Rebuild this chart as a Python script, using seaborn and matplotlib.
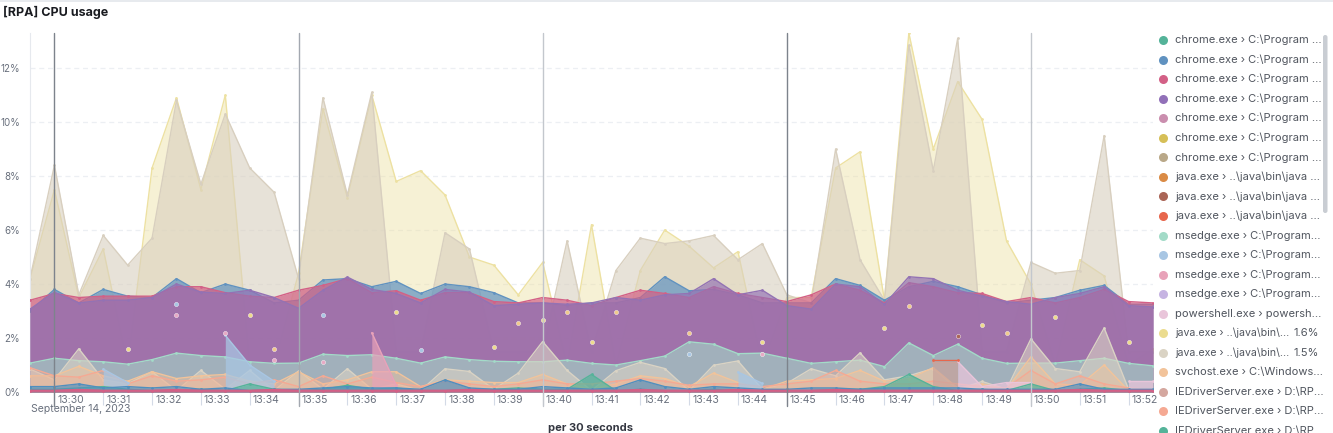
import numpy as np
import pandas as pd
import matplotlib
matplotlib.use("Agg")
import matplotlib.pyplot as plt
import matplotlib.dates as mdates
from matplotlib.transforms import ScaledTranslation
from matplotlib.patches import FancyBboxPatch
import seaborn as sns

nan = np.nan
N = 47
times = pd.date_range("2023-09-14 13:29:30", periods=N, freq="30s")

# ---------------- data (CPU %, one value per 30 s bucket) ----------------
java_16 = [4.2, 7.5, 3.5, 5.3, 1.0, 8.3, 10.9, 7.5, 11.0, 1.0, 1.0, 4.4, 10.5, 7.2, 11.0, 7.8,
           8.2, 7.3, 5.0, 4.7, 3.6, 4.8, 1.0, 6.2, 1.0, 4.5, 6.0, 5.4, 4.6, 5.2, 1.0, 3.5,
           3.5, 8.3, 8.9, 3.4, 13.3, 9.0, 11.5, 10.1, 5.6, 4.0, 1.0, 4.9, 4.3, 1.0, 1.6]
java_15 = [4.2, 8.4, 3.6, 5.8, 4.7, 5.7, 10.8, 7.7, 10.3, 8.3, 7.4, 4.2, 10.9, 7.3, 11.1, 1.5,
           1.5, 5.9, 5.3, 1.5, 1.5, 1.5, 5.6, 1.5, 4.5, 5.7, 5.5, 5.6, 5.8, 4.9, 5.5, 3.6,
           3.3, 9.0, 4.9, 3.4, 12.85, 8.2, 13.1, 1.5, 1.5, 4.8, 4.4, 4.5, 9.5, 1.5, 1.5]
chrome_blue = [3.0, 3.8, 3.3, 3.8, 3.55, 3.5, 4.2, 3.68, 4.0, 3.77, 3.3, 3.4, 4.15, 4.2, 3.9, 4.1,
               3.65, 4.0, 3.9, 3.68, 3.3, 3.3, 3.2, 3.3, 3.3, 3.5, 4.27, 3.75, 3.8, 3.6, 3.3, 3.3,
               3.3, 4.2, 3.95, 3.4, 3.9, 4.1, 3.9, 3.6, 3.3, 3.4, 3.5, 3.77, 3.95, 3.25, 3.25]
chrome_red = [3.4, 3.65, 3.5, 3.55, 3.55, 3.55, 3.9, 3.9, 3.68, 3.55, 3.5, 3.77, 3.95, 4.2, 3.68, 3.75,
              3.4, 3.68, 3.68, 3.35, 3.3, 3.5, 3.4, 3.2, 3.5, 3.77, 3.65, 3.5, 3.9, 3.65, 3.5, 3.35,
              3.6, 4.0, 3.77, 3.3, 4.05, 3.9, 3.68, 3.65, 3.35, 3.5, 3.3, 3.5, 3.8, 3.35, 3.3]
chrome_purple = [3.07, 3.7, 3.3, 3.4, 3.4, 3.5, 4.0, 3.7, 3.65, 3.77, 3.5, 3.1, 3.77, 4.26, 3.8, 3.65,
                 3.3, 3.8, 3.7, 3.2, 3.25, 3.3, 3.25, 3.3, 3.5, 3.4, 3.6, 3.65, 4.2, 3.6, 3.77, 3.2,
                 3.07, 4.0, 3.9, 3.25, 4.27, 4.2, 3.77, 3.55, 3.35, 3.25, 3.5, 3.65, 3.9, 3.2, 3.15]
msedge_mint = [1.07, 1.25, 1.16, 1.12, 1.03, 1.2, 1.44, 1.35, 1.3, 1.12, 1.06, 1.07, 1.4, 1.35, 1.38, 1.25,
               1.07, 1.3, 1.2, 1.14, 1.12, 1.12, 1.18, 1.06, 1.0, 1.16, 1.33, 1.86, 1.77, 1.42, 1.44, 1.25,
               1.06, 1.12, 1.18, 0.94, 1.82, 1.35, 1.77, 1.25, 1.06, 1.07, 1.07, 1.16, 1.25, 1.06, 0.97]
chrome_tan = [0.85, 0.45, 1.6, 0.45, 0.3, 0.75, 0.05, 0.8, 0.1, 0.8, 0.05, 0.78, 0.1, 0.86, 0.1, 0.3,
              0.05, 0.86, 0.76, 0.1, 0.7, 1.87, 0.8, 0.05, 0.79, 1.1, 0.87, 0.05, 0.99, 1.15, 0.1, 0.32,
              0.86, 0.6, 1.45, 0.45, 0.6, 0.87, 0.1, 0.39, 0.1, 1.97, 0.87, 0.75, 2.37, 0.1, 0.1]
svchost = [0.6, 0.6, 0.95, 0.6, 0.4, 0.75, 0.5, 0.6, 0.65, 0.4, 0.3, 0.75, 0.3, 0.45, 0.75, 0.75,
           0.2, 0.45, 0.4, 0.35, 0.35, 0.65, 0.3, 0.1, 0.3, 0.6, 0.5, 0.2, 0.7, 0.35, 0.1, 0.4,
           0.45, 0.5, 0.8, 0.4, 0.5, 0.9, 0.15, 0.3, 0.1, 1.3, 0.3, 0.25, 1.0, 0.05, 0.1]
iedriver_salmon = [0.9, 0.6, 0.55, 0.8, 0.3, 0.6, 0.4, 0.45, 0.55, 0.3, 0.45, 0.2, 0.6, 0.3, 0.55, 0.35,
                   0.2, 0.4, 0.3, 0.2, 0.3, 0.45, 0.3, 0.3, 0.4, 0.5, 0.4, 0.25, 0.3, 0.3, 0.2, 0.3,
                   0.4, 0.8, 0.4, 0.3, 0.3, 0.4, 0.3, 0.2, 0.15, 0.8, 0.3, 0.6, 0.3, 0.15, 0.1]
chrome_green = [0.1, 0.1, 0.15, 0.2, 0.1, 0.05, 0.05, 0.1, 0.05, 0.3, 0.1, 0.05, 0.1, 0.25, 0.1, 0.15,
                0.05, 0.05, 0.1, 0.1, 0.15, 0.1, 0.1, 0.65, 0.05, 0.1, 0.05, 0.05, 0.1, 0.05, 0.05, 0.05,
                0.05, 0.1, 0.1, 0.2, 0.65, 0.2, 0.05, 0.1, 0.05, 0.3, 0.05, 0.1, 0.15, 0.05, 0.05]
other_blue = [0.2, 0.2, 0.3, 0.15, 0.2, 0.15, 0.2, 0.1, 0.15, 0.05, 0.1, 0.1, 0.15, 0.2, 0.15, 0.15,
              0.1, 0.45, 0.15, 0.1, 0.1, 0.2, 0.15, 0.1, 0.15, 0.45, 0.2, 0.1, 0.2, 0.15, 0.1, 0.1,
              0.15, 0.15, 0.1, 0.15, 0.15, 0.15, 0.15, 0.1, 0.1, 0.1, 0.1, 0.3, 0.1, 0.1, 0.1]
other_red = [0.05, 0.05, 0.08, 0.05, 0.05, 0.05, 0.08, 0.05, 0.05, 0.05, 0.08, 0.05, 0.05, 0.05, 0.05, 0.05,
             0.05, 0.05, 0.08, 0.05, 0.05, 0.05, 0.05, 0.05, 0.05, 0.08, 0.05, 0.05, 0.05, 0.08, 0.05, 0.05,
             0.05, 0.08, 0.05, 0.05, 0.05, 0.05, 0.05, 0.05, 0.05, 0.05, 0.05, 0.08, 0.05, 0.05, 0.05]
msedge_blue = [nan, nan, nan, 0.85, 0.35, nan, 3.26, nan, 2.1, 1.0, 0.4, nan, 2.85, nan, nan, nan,
               1.55, nan, nan, nan, nan, nan, nan, nan, nan, nan, nan, 1.4, nan, 0.74, 0.32, nan,
               nan, nan, nan, nan, nan, nan, nan, nan, nan, nan, nan, nan, nan, nan, nan]
msedge_pink = [nan, nan, nan, nan, nan, nan, nan, nan, nan, nan, nan, nan, nan, nan, 2.2, 0.25,
               nan, nan, nan, nan, nan, nan, nan, nan, nan, nan, nan, nan, nan, nan, nan, nan,
               nan, nan, nan, nan, nan, nan, nan, nan, nan, nan, nan, nan, nan, nan, nan]
powershell = [nan, nan, nan, nan, nan, nan, nan, nan, nan, nan, nan, nan, nan, nan, nan, nan,
              nan, nan, nan, nan, nan, nan, nan, nan, nan, nan, nan, nan, nan, nan, nan, nan,
              nan, nan, nan, nan, nan, nan, 1.13, 0.2, 0.35, 0.35, nan, nan, nan, 0.4, 0.4]
iedriver_brown = [nan] * 37 + [1.1, 1.1] + [nan] * 8
chrome_yellow = [nan, nan, nan, nan, 1.6, nan, nan, nan, nan, 2.85, nan, nan, nan, nan, nan, 2.97,
                 nan, nan, nan, 1.68, nan, 2.67, nan, 1.86, nan, nan, nan, nan, nan, nan, 1.86, nan,
                 nan, nan, nan, 2.36, nan, nan, nan, 2.48, nan, nan, 2.77, nan, nan, 1.86, nan]
java_orange = [nan, nan, nan, nan, nan, nan, nan, nan, nan, nan, 1.6, nan, nan, nan, nan, nan,
               nan, nan, nan, nan, 2.57, nan, 2.97, nan, 2.97, nan, nan, 2.2, nan, nan, nan, nan,
               nan, nan, nan, nan, 3.19, nan, nan, nan, 2.2, nan, nan, nan, nan, nan, nan]
chrome_pink = [nan, nan, nan, nan, nan, nan, 2.85, nan, 2.2, nan, 1.2, nan, 1.1, nan, nan, nan,
               nan, nan, nan, nan, nan, nan, nan, nan, nan, nan, nan, nan, nan, nan, 1.4, nan,
               nan, nan, nan, nan, nan, nan, nan, nan, nan, nan, nan, nan, nan, nan, nan]
java_brown = [nan] * 38 + [2.08] + [nan] * 8
java_red = [nan] * 37 + [1.17, 1.17] + [nan] * 8

legend_labels = (["chrome.exe › C:\\Program ..."] * 7
                 + ["java.exe › ..\\java\\bin\\java ..."] * 3
                 + ["msedge.exe › C:\\Program..."] * 4
                 + ["powershell.exe › powersh...",
                    "java.exe › ..\\java\\bin\\...",
                    "java.exe › ..\\java\\bin\\...",
                    "svchost.exe › C:\\Windows..."]
                 + ["IEDriverServer.exe › D:\\RP..."] * 3)
legend_values = [""] * 15 + ["1.6%", "1.5%"] + [""] * 4
legend_colors = ["#54B399", "#6092C0", "#D36086", "#9170B8", "#CA8EAE", "#D6BF57", "#B9A888",
                 "#DA8B45", "#AA6556", "#E7664C",
                 "#A3DBC8", "#A8C6E3", "#E8A2B9", "#C6B4E2",
                 "#E9C5DA", "#EBDC8F", "#DAD3C4", "#F2C39A",
                 "#D4A79F", "#F5A993", "#54B399"]

# ---------------- figure ----------------
sns.set_theme(style="white")
plt.rcParams["font.family"] = ["Inter", "DejaVu Sans"]

W, H = 1333, 433
fig = plt.figure(figsize=(W / 100, H / 100), dpi=100)
ax = fig.add_axes([30 / W, 1 - 392 / H, (1153 - 30) / W, (392 - 33) / H])

z_counter = [1]


def draw_series(values, color, fill_alpha, lw=1.0, ms=2.0, fill=True):
    z = z_counter[0]
    z_counter[0] += 1
    s = pd.Series(values, dtype=float)
    df = pd.DataFrame({"t": times, "v": s.values, "run": s.isna().cumsum().values}).dropna()
    for _, g in df.groupby("run"):
        if len(g) > 1:
            if fill:
                ax.fill_between(g["t"].values, 0, g["v"].values, color=color,
                                alpha=fill_alpha, lw=0, zorder=z)
            sns.lineplot(data=g, x="t", y="v", ax=ax, color=color, lw=lw,
                         estimator=None, marker="o", ms=ms, mec="none",
                         zorder=z + 0.5, legend=False)
        else:
            sns.scatterplot(data=g, x="t", y="v", ax=ax, color=color, s=9,
                            edgecolor="white", linewidth=0.3, zorder=50, legend=False)


draw_series(java_16, "#EDE1A2", 0.45)
draw_series(java_15, "#D8CFBF", 0.6)
draw_series(chrome_blue, "#6092C0", 0.7)
draw_series(chrome_red, "#D36086", 0.7)
draw_series(chrome_purple, "#9372B4", 0.68)
draw_series(msedge_mint, "#A3DBC8", 0.6)
draw_series(chrome_tan, "#DAD3C4", 0.6)
draw_series(svchost, "#F2C39A", 0.45)
draw_series(iedriver_salmon, "#F5A993", 0.3)
draw_series(iedriver_brown, "#C9A39B", 0.7)
draw_series(powershell, "#E9C5DA", 0.75)
draw_series(msedge_blue, "#A8C6E3", 0.75)
draw_series(msedge_pink, "#E8A2B9", 0.7)
draw_series(chrome_green, "#54B399", 0.7)
draw_series(other_blue, "#4F8FBF", 0.65)
draw_series(other_red, "#D36086", 0.9, lw=1.5)
draw_series(chrome_yellow, "#EEDB8A", 1.0)
draw_series(java_orange, "#F0C98A", 1.0)
draw_series(chrome_pink, "#E7A9C4", 1.0)
draw_series(java_brown, "#AA6556", 1.0)
draw_series(java_red, "#E7664C", 1.0, fill=False)

# axes styling
ax.set_xlim(times[0], times[-1])
ax.set_ylim(0, 13.3)
ax.set_xlabel("")
ax.set_ylabel("")
ax.set_yticks([0, 2, 4, 6, 8, 10, 12])
ax.set_yticklabels([f"{v}%" for v in [0, 2, 4, 6, 8, 10, 12]])
ax.yaxis.grid(True, color="#eceff3", lw=0.9, ls=(0, (4, 3)))
ax.xaxis.grid(False)
ax.set_axisbelow(True)
for side in ["top", "right", "bottom"]:
    ax.spines[side].set_visible(False)
ax.spines["left"].set_color("#e6e9ee")
ax.spines["left"].set_linewidth(0.8)

ax.xaxis.set_major_locator(mdates.MinuteLocator())
ax.xaxis.set_major_formatter(mdates.DateFormatter("%H:%M"))
ax.tick_params(axis="x", length=9, width=0.8, color="#d3dae6", pad=-6.5,
               labelsize=7.5, labelcolor="#69707d", direction="out", bottom=True)
ax.tick_params(axis="y", length=0, pad=7, labelsize=7, labelcolor="#69707d")

# emphasised minute lines
for tm, col in zip(["13:30", "13:35", "13:40", "13:45", "13:50"],
                   ["#7d838c", "#a3a8b0", "#c3c7cd", "#7d838c", "#c3c7cd"]):
    ax.axvline(pd.Timestamp(f"2023-09-14 {tm}:00"), ymin=-0.038, ymax=1, color=col,
               lw=1.0, zorder=60, clip_on=False)

fig.canvas.draw()
offset = ScaledTranslation(3 / 100, 0, fig.dpi_scale_trans)
for lbl in ax.get_xticklabels():
    lbl.set_horizontalalignment("left")
    lbl.set_transform(lbl.get_transform() + offset)

fig.text(31 / W, 1 - 409 / H, "September 14, 2023", fontsize=7.5, color="#69707d",
         ha="left", va="center")
fig.text(591 / W, 1 - 428 / H, "per 30 seconds", fontsize=8, fontweight="bold",
         color="#343741", ha="center", va="center")
fig.text(3 / W, 1 - 12 / H, "[RPA] CPU usage", fontsize=9, fontweight="bold",
         color="#1a1c21", ha="left", va="center")

# legend panel (pixel coordinates)
lax = fig.add_axes([0, 0, 1, 1], zorder=5)
lax.set_xlim(0, W)
lax.set_ylim(H, 0)
lax.axis("off")
lax.plot([0, W], [0.5, 0.5], color="#e3e6eb", lw=1.2)
for k, (lab, val, col) in enumerate(zip(legend_labels, legend_values, legend_colors)):
    yy = 40 + 19.55 * k
    lax.plot(1163, yy, "o", ms=6.5, color=col, mec="none")
    lax.text(1175, yy, lab, fontsize=8.0 if not val else 7.6, color="#50555e",
             ha="left", va="center")
    if val:
        lax.text(1319, yy, val, fontsize=8.0, color="#50555e", ha="right", va="center")
lax.add_patch(FancyBboxPatch((1323, 35), 4.5, 178, boxstyle="round,pad=0,rounding_size=2.2",
                             color="#c9cdd3", lw=0))

fig.savefig("out.png", dpi=100)
